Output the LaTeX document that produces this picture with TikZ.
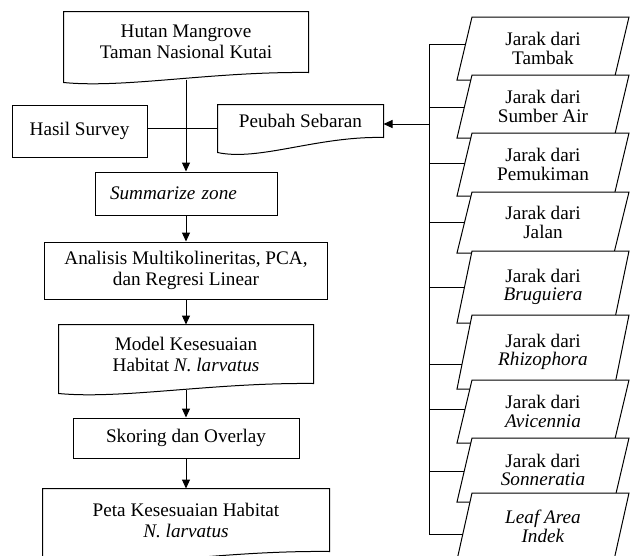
\documentclass[tikz,border=0pt]{standalone}
\usepackage{fontspec}
\setmainfont{Liberation Serif}
\usetikzlibrary{arrows.meta,calc}

% box with a wavy bottom (document shape)
\newcommand{\wavy}[2]{%
  \draw ($(#1.south west)+(0,#2)$) -- (#1.north west) -- (#1.north east) -- (#1.south east)
    .. controls ($(#1.south east)!0.4!(#1.south west)+(0,-0.1*#2)$) and ($(#1.south east)!0.75!(#1.south west)+(0,1.6*#2)$) .. cycle;}

\begin{document}
\begin{tikzpicture}[x=1pt,y=-1pt,line width=1pt,>={Triangle[length=9pt,width=8pt]},
	font=\fontsize{19.2}{21}\selectfont,
	box/.style={draw,align=center,inner sep=0pt},
	doc/.style={align=center,inner sep=0pt},
	paratext/.style={align=center,font=\fontsize{19.2}{18.5}\selectfont}]
	\useasboundingbox (0,0) rectangle (630,555);
	
	% main column
	\node[doc,minimum width=244pt,minimum height=60pt] (hutan) at (186,42) {Hutan Mangrove\\Taman Nasional Kutai};
	\wavy{hutan}{10}
	\node[box,minimum width=135pt,minimum height=52pt] (hasil) at (79.5,131) {Hasil Survey};
	\node[doc,minimum width=165pt,minimum height=32pt] (peubah) at (300.5,121) {Peubah Sebaran};
	\wavy{peubah}{15}
	\node[box,minimum height=43pt,inner xsep=15pt,text width=152pt,align=left] (summ) at (186,193.5) {\textit{Summarize zone}};
	\node[box,minimum width=283pt,minimum height=57pt] (analisis) at (186,270.5) {Analisis Multikolineritas, PCA,\\dan Regresi Linear};
	\node[doc,minimum width=254pt,minimum height=58pt] (model) at (186,354) {Model Kesesuaian\\Habitat \textit{N. larvatus}};
	\wavy{model}{10}
	\node[box,minimum width=226pt,minimum height=40pt] (skoring) at (186,438) {Skoring dan Overlay};
	\node[doc,minimum width=286pt,minimum height=62pt] (peta) at (186,520) {Peta Kesesuaian Habitat\\\textit{N. larvatus}};
	\wavy{peta}{12}
	
	% arrows
	\coordinate (mid) at ([yshift=3pt]hasil.east);
	\draw (mid) -- (mid -| peubah.west);
	\draw[->] ([yshift=-7pt]hutan.south) -- (summ.north);
	\draw[->] (summ.south) -- (analisis.north);
	\draw[->] (analisis.south) -- (model.north);
	\draw[->] ([yshift=-6pt]model.south) -- (skoring.north);
	\draw[->] (skoring.south) -- (peta.north);
	
	% distance layers
	\foreach \i/\ya/\yb/\yc/\lbl in {
		1/17/80/44/{Jarak dari\\Tambak},
		2/75/138/107/{Jarak dari\\Sumber Air},
		3/133/196/163/{Jarak dari\\Pemukiman},
		4/192/253/222/{Jarak dari\\Jalan},
		5/251/323/287/{Jarak dari\\\textit{Bruguiera}},
		6/315/389/364/{Jarak dari\\\textit{Rhizophora}},
		7/380/443/409/{Jarak dari\\\textit{Avicennia}},
		8/438/502/471/{Jarak dari\\\textit{Sonneratia}},
		9/493/560/534/{\textit{Leaf Area}\\\textit{Indek}}}{
		\filldraw[fill=white] (472,\ya) -- (629,\ya) -- (614,\yb) -- (457,\yb) -- cycle;
		\node[paratext] (p\i) at (543,{(\ya+\yb)/2}) {\lbl};
		\coordinate (p\i-w) at ({472-15*(\yc-\ya)/(\yb-\ya)},\yc);
	}
	
	% bus
	\coordinate (bus) at (429,0);
	\coordinate (pin) at ([yshift=-3pt]peubah.east);
	\draw (bus |- p1-w) -- (bus |- p9-w);
	\foreach \i in {1,...,9} \draw (bus |- p\i-w) -- (p\i-w);
	\draw[->] (bus |- pin) -- (pin);
\end{tikzpicture}
\end{document}
